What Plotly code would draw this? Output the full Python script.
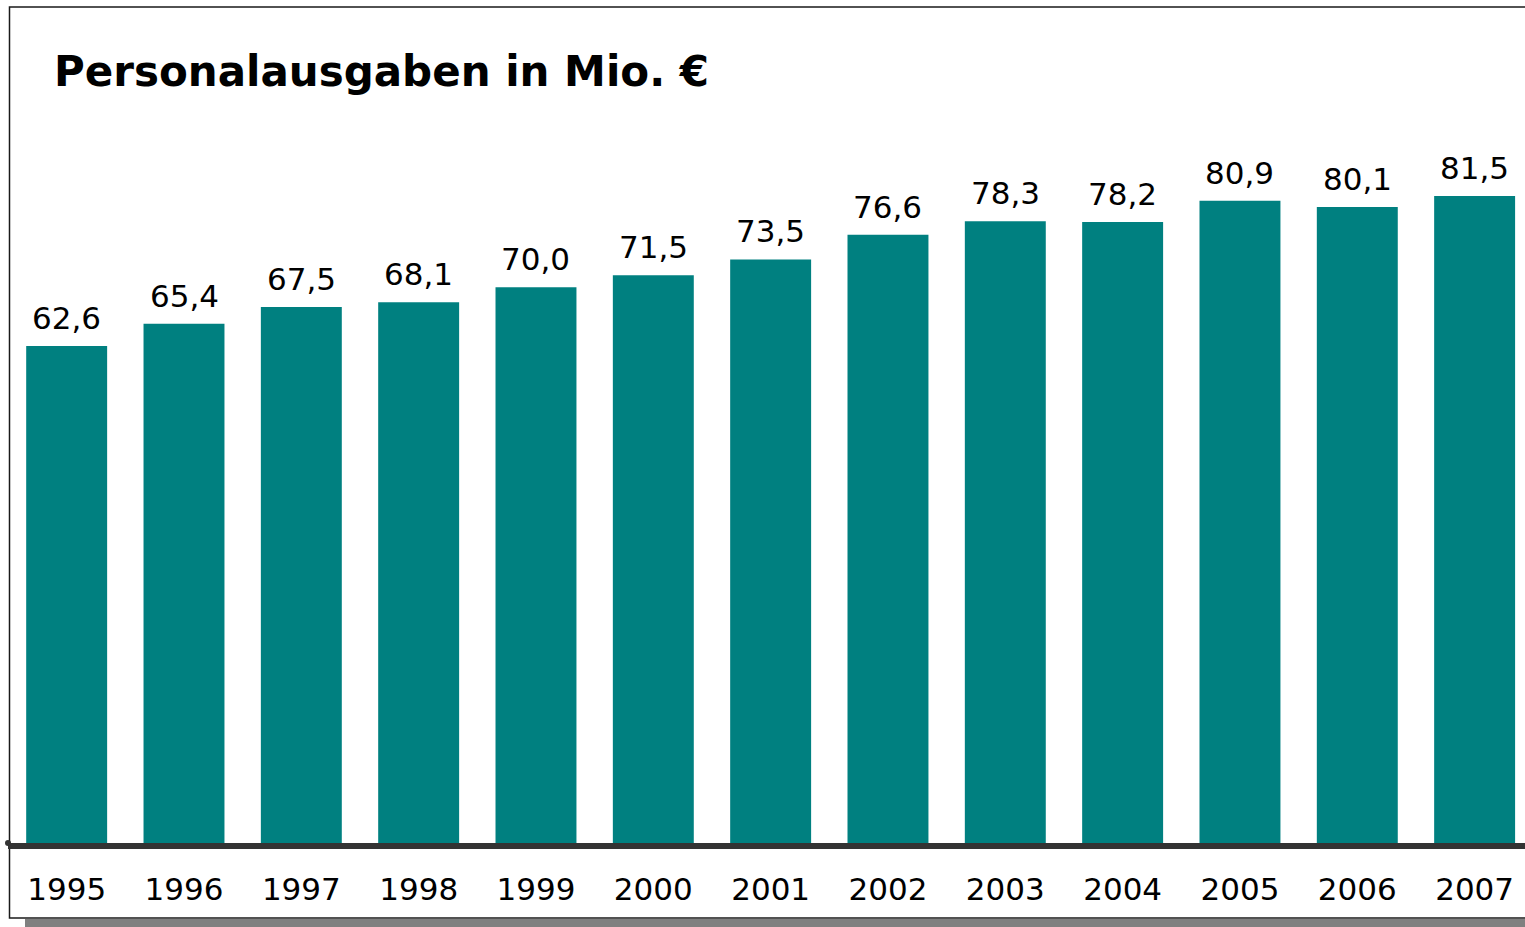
import plotly.graph_objects as go

# data
years = ["1995", "1996", "1997", "1998", "1999", "2000", "2001",
         "2002", "2003", "2004", "2005", "2006", "2007"]
ausgaben = [62.6, 65.4, 67.5, 68.1, 70.0, 71.5, 73.5,
            76.6, 78.3, 78.2, 80.9, 80.1, 81.5]
labels = [f"{v:.1f}".replace(".", ",") for v in ausgaben]

W, H = 1525, 927
L, R, T, B = 8, 0, 140, 84
pw, ph = W - L - R, H - T - B


def px_x(x):
    return (x - L) / pw


def px_y(y):
    return (H - B - y) / ph


font = "DejaVu Sans, Verdana, sans-serif"

fig = go.Figure()
fig.add_trace(go.Bar(
    x=years,
    y=ausgaben,
    marker=dict(color="#008080", line=dict(width=0)),
    hoverinfo="skip",
))

# value labels above bars (category index as x, numeric-looking names confuse annotations)
for i, (v, lab) in enumerate(zip(ausgaben, labels)):
    fig.add_annotation(
        x=i, y=v, xref="x", yref="y", text=lab, showarrow=False,
        xanchor="center", yanchor="bottom", yshift=8,
        font=dict(family=font, size=31, color="#000000"),
    )

# title
fig.add_annotation(
    xref="paper", yref="paper", x=px_x(52), y=px_y(71),
    text="<b>Personalausgaben in Mio. €</b>", showarrow=False,
    xanchor="left", yanchor="middle",
    font=dict(family=font, size=42, color="#000000"),
)

# shadow + frame
fig.add_shape(type="rect", xref="paper", yref="paper", layer="below",
              x0=px_x(25), x1=px_x(1540), y0=px_y(919), y1=px_y(940),
              fillcolor="#808080", line=dict(width=0))
fig.add_shape(type="rect", xref="paper", yref="paper", layer="below",
              x0=px_x(9.5), x1=px_x(1540), y0=px_y(918), y1=px_y(7),
              fillcolor="rgba(0,0,0,0)", line=dict(color="#1a1a1a", width=1.5))
fig.add_shape(type="circle", xref="paper", yref="paper",
              x0=px_x(5), x1=px_x(11), y0=px_y(846), y1=px_y(840),
              fillcolor="#333333", line=dict(width=0))

fig.update_layout(
    width=W, height=H,
    margin=dict(l=L, r=R, t=T, b=B),
    paper_bgcolor="#ffffff",
    plot_bgcolor="#ffffff",
    showlegend=False,
    bargap=0.31,
    xaxis=dict(
        type="category",
        range=[-0.5, -0.5 + pw / 117.33],
        showgrid=False, zeroline=False,
        showline=True, linecolor="#333333", linewidth=6,
        ticks="", ticklabelstandoff=14,
        tickfont=dict(family=font, size=31, color="#000000"),
    ),
    yaxis=dict(
        range=[0, ph / 7.94],
        showgrid=False, zeroline=False, showline=False,
        showticklabels=False, ticks="",
    ),
)

# drop the browser's default 8px body margin so the figure fills the window
fig.write_html(
    "out.html",
    config={"displayModeBar": False},
    post_script="document.body.style.margin='0';document.body.style.overflow='hidden';",
)
